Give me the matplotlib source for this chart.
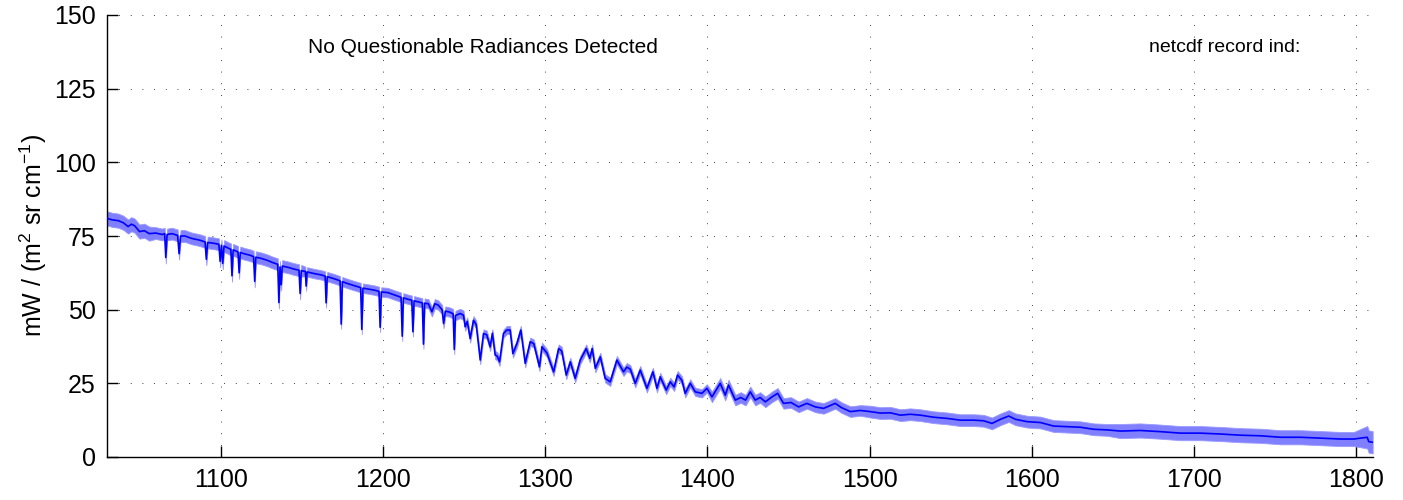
import numpy as np
import matplotlib
matplotlib.use('Agg')
import matplotlib.pyplot as plt

plt.rcParams['font.family'] = ['Liberation Sans', 'DejaVu Sans']
plt.rcParams['mathtext.default'] = 'regular'

# mean radiance spectrum
wn = [1030.0, 1033, 1037, 1040, 1043, 1045, 1047, 1050, 1053, 1056, 1060, 1064,
      1065.5, 1066.2, 1067.0, 1070, 1073.5, 1074.4, 1075.3, 1078, 1082, 1087,
      1090.4, 1091.2, 1092.0, 1095, 1098.9, 1099.7, 1100.5, 1101.3, 1102.1,
      1105, 1106.3, 1107.0, 1107.7, 1110.7, 1111.4, 1112.1, 1115, 1118,
      1120.3, 1121.0, 1121.7, 1125, 1128.5, 1132, 1135.2, 1135.9, 1136.6,
      1137.3, 1138.0, 1142, 1145, 1148.3, 1149.0, 1149.7, 1152.2, 1152.7,
      1153.3, 1158, 1162, 1164.4, 1165.0, 1165.7, 1170, 1173.6, 1174.3,
      1175.0, 1178, 1182, 1186.3, 1187.0, 1187.7, 1191, 1195, 1197.6, 1198.3,
      1199.0, 1203, 1207, 1211.2, 1211.9, 1212.6, 1215, 1217.8, 1218.5,
      1219.2, 1222, 1224.3, 1225.0, 1225.7, 1228, 1230.2, 1232, 1234, 1236.5,
      1237.4, 1238.5, 1241, 1243.3, 1244.0, 1244.7, 1247.6, 1249.7, 1250.7,
      1252, 1253.8, 1255.8, 1257.5, 1260.0, 1262.0, 1264, 1266.1, 1267.5,
      1269.2, 1270.5, 1271.9, 1274.3, 1276.4, 1278.4, 1280.1, 1282.6, 1285.0,
      1287.7, 1290.8, 1293, 1296.5, 1298.0, 1301.1, 1305.2, 1308.3, 1310.2,
      1313.0, 1315.5, 1318.5, 1321.6, 1325.3, 1327.5, 1329.0, 1330.9, 1334.0,
      1337.0, 1340.1, 1344.2, 1348.3, 1350.3, 1352.5, 1355.5, 1358.6, 1362.7,
      1366.4, 1368.9, 1370.9, 1374.6, 1377.1, 1379.5, 1381.6, 1384.3, 1386.3,
      1389.4, 1392.5, 1396.6, 1399.7, 1402.8, 1407.9, 1411.0, 1413.0, 1417.2,
      1420.5, 1423.5, 1426.4, 1429.5, 1432.5, 1435.7, 1439.8, 1443.3, 1446.9,
      1451.5, 1456.2, 1461.3, 1466.5, 1471.6, 1478.8, 1482.5, 1488.1, 1494.2,
      1500.4, 1506.6, 1512.7, 1518.9, 1525, 1531.2, 1539.4, 1547.7, 1555.9,
      1564.1, 1570.2, 1575.4, 1580.6, 1585.7, 1589.8, 1597.0, 1605.2, 1613.4,
      1621.7, 1629.9, 1638.1, 1646.3, 1654.5, 1666.8, 1679.2, 1691.5, 1703.8,
      1716.2, 1728.5, 1740.8, 1753.1, 1765.5, 1777.8, 1790.1, 1798.4, 1806.6,
      1807.6, 1810.0]
rad = [81.0, 80.5, 80.2, 79.5, 78.2, 79.0, 78.5, 76.5, 76.8, 75.8, 76.0, 75.5,
       75.8, 67.7, 75.5, 75.8, 75.2, 69.0, 75.0, 75.0, 74.2, 73.6,
       73.0, 67.1, 72.8, 72.6, 72.2, 66.4, 71.8, 65.7, 71.6,
       70.8, 70.5, 61.5, 70.3, 69.6, 62.5, 69.4, 68.9, 68.5,
       68.0, 59.6, 67.8, 67.4, 66.8, 66.0, 65.4, 52.4, 64.5,
       58.5, 64.8, 64.3, 63.8, 63.4, 55.5, 63.2, 63.0, 58.0,
       62.8, 62.2, 61.8, 61.4, 52.3, 61.2, 60.5, 59.8, 45.1,
       59.5, 58.9, 58.2, 57.5, 43.3, 57.3, 57.0, 56.6, 56.2, 44.0,
       56.0, 55.8, 55.0, 54.2, 41.0, 54.0, 53.6, 53.2, 42.5,
       53.0, 52.6, 52.3, 38.3, 52.2, 52.0, 49.3, 52.0, 51.6, 50.0,
       45.3, 49.5, 49.2, 48.6, 36.5, 48.0, 48.7, 48.1, 44.2,
       46.0, 40.2, 46.4, 45.0, 32.9, 41.9, 41.5, 37.4, 42.0,
       34.6, 34.2, 32.3, 41.9, 43.1, 43.1, 35.1, 38.5, 43.1,
       31.8, 39.1, 38.5, 30.6, 37.4, 35.3, 28.9, 36.8, 36.0,
       27.8, 32.3, 26.7, 32.9, 36.8, 33.5, 36.8, 30.1, 34.0,
       26.7, 25.5, 32.9, 28.9, 30.5, 29.8, 25.0, 29.5, 23.3,
       28.9, 23.3, 27.2, 22.7, 25.5, 23.8, 27.8, 26.0, 21.6,
       25.0, 22.1, 21.6, 23.3, 20.4, 25.0, 21.0, 24.4, 19.3,
       20.2, 19.3, 22.1, 19.3, 20.2, 18.7, 20.4, 21.6, 18.2,
       18.5, 17.0, 18.2, 17.0, 16.5, 18.2, 16.8, 15.4, 15.8,
       15.4, 14.9, 15.0, 14.2, 14.5, 14.2, 13.5, 13.1, 12.5,
       12.5, 12.3, 11.4, 12.8, 13.9, 12.8, 12.0, 11.7, 10.5,
       10.3, 10.1, 9.4, 9.2, 8.8, 9.0, 8.6, 8.1, 8.1,
       7.8, 7.4, 7.2, 6.7, 6.7, 6.4, 6.1, 6.1, 6.7,
       5.2, 5.0]

# half-width of the light spread band, per wavenumber segment
spread_edges = [1030, 1060, 1150, 1250, 1400, 1500, 1650, 1800, 1811]
spread_vals = [2.4, 2.0, 1.6, 1.4, 1.8, 2.0, 2.4, 3.8]

xticks = [1100, 1200, 1300, 1400, 1500, 1600, 1700, 1800]
yticks = [0, 25, 50, 75, 100, 125, 150]

wn = np.array(wn)
rad = np.array(rad)
seg = np.clip(np.digitize(wn, spread_edges) - 1, 0, len(spread_vals) - 1)
half = np.array(spread_vals)[seg]

fig = plt.figure(figsize=(14.03, 5.0), dpi=100)
ax = fig.add_axes([0.0763, 0.086, 0.9021, 0.884])
ax.fill_between(wn, rad - half, rad + half, color='#8080ff', lw=0.6,
                edgecolor='#9a9aff', zorder=2)
ax.plot(wn, rad, color='#0000ff', lw=1.2, zorder=3)

ax.set_xlim(1030, 1810)
ax.set_ylim(0, 150)
ax.set_xticks(xticks)
ax.set_yticks(yticks)
ax.tick_params(direction='in', length=8, width=1, labelsize=18, pad=8)
ax.grid(True, color='black', linestyle=(0, (1, 13)), lw=0.6)
ax.set_axisbelow(True)
for side in ['top', 'right']:
    ax.spines[side].set_visible(False)
for side in ['left', 'bottom']:
    ax.spines[side].set_linewidth(1.0)
ax.set_ylabel(r'mW / (m$^2$ sr cm$^{-1}$)', fontsize=18, labelpad=4)

ax.text(1154, 139, 'No Questionable Radiances Detected', fontsize=15,
        va='center', ha='left')
ax.text(1672, 139, 'netcdf record ind:', fontsize=14, va='center', ha='left')

fig.savefig('out.png', dpi=100)
